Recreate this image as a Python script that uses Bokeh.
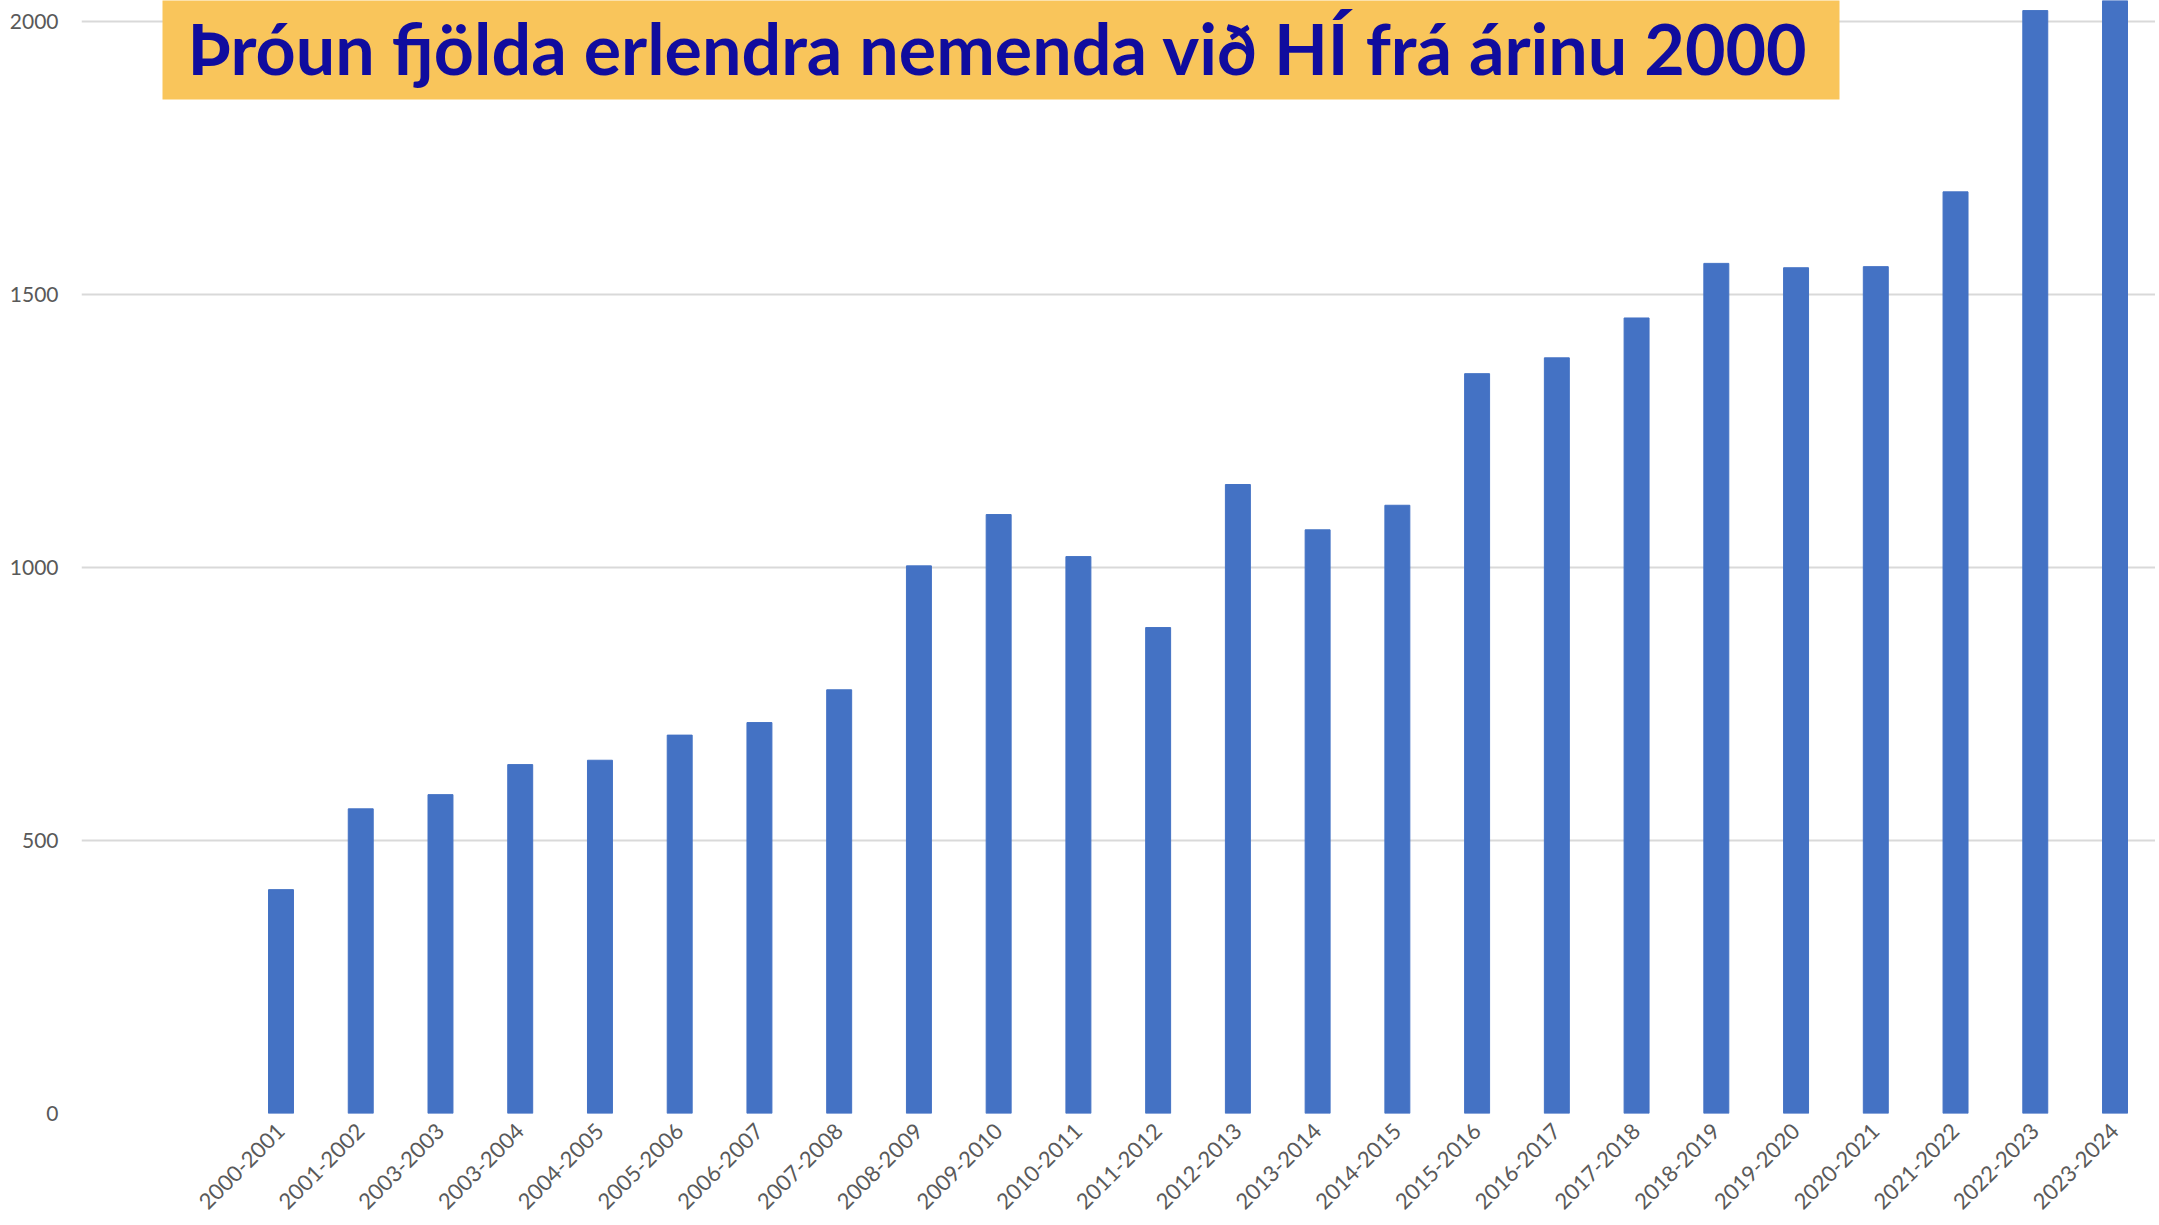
import math
from bokeh.plotting import figure
from bokeh.models import FixedTicker, BoxAnnotation, Label, ColumnDataSource, Range1d
from bokeh.embed import file_html
from bokeh.resources import INLINE

# ---- data ----
years = ["2000-2001", "2001-2002", "2003-2003", "2003-2004", "2004-2005",
         "2005-2006", "2006-2007", "2007-2008", "2008-2009", "2009-2010",
         "2010-2011", "2011-2012", "2012-2013", "2013-2014", "2014-2015",
         "2015-2016", "2016-2017", "2017-2018", "2018-2019", "2019-2020",
         "2020-2021", "2021-2022", "2022-2023", "2023-2024"]
students = [410, 558, 584, 639, 647, 693, 716, 776, 1003, 1097,
            1020, 890, 1152, 1069, 1114, 1355, 1384, 1457, 1557, 1549,
            1551, 1688, 2020, 2100]
y_ticks = [0, 500, 1000, 1500, 2000]
title_text = "Þróun fjölda erlendra nemenda við HÍ frá árinu 2000"

# ---- layout constants (page pixels) ----
PX_X = 79.74          # pixels per category
PX_Y = 0.546          # pixels per student
FIRST_X = 280.5       # page x of first bar centre
FRAME_L, FRAME_R = 81, 2155
FRAME_T, FRAME_B = 0, 1113
FIG_H = 1225

x_start = -(FIRST_X - FRAME_L) / PX_X
x_end = x_start + (FRAME_R - FRAME_L) / PX_X
y_end = (FRAME_B - FRAME_T) / PX_Y

def dx(px):
    return (px - FIRST_X) / PX_X

def dy(py):
    return (FRAME_B - py) / PX_Y

p = figure(width=FRAME_R, height=FIG_H, output_backend="svg", toolbar_location=None,
           x_range=Range1d(x_start, x_end), y_range=Range1d(0, y_end),
           min_border_left=FRAME_L, min_border_right=0, min_border_top=FRAME_T,
           min_border_bottom=FIG_H - FRAME_B)
p.outline_line_color = None
p.background_fill_color = "white"
p.border_fill_color = "white"

src = ColumnDataSource(dict(x=list(range(len(years))), top=students))
p.vbar(x="x", top="top", width=0.313, bottom=0, source=src,
       fill_color="#4472C4", line_color="#4472C4", line_width=1)

# grid
p.xgrid.grid_line_color = None
p.ygrid.ticker = FixedTicker(ticks=y_ticks)
p.ygrid.grid_line_color = "#D9D9D9"
p.ygrid.grid_line_width = 2

# y axis
p.yaxis.ticker = FixedTicker(ticks=y_ticks)
p.yaxis.axis_line_color = None
p.yaxis.major_tick_line_color = None
p.yaxis.minor_tick_line_color = None
p.yaxis.major_tick_out = 0
p.yaxis.major_label_standoff = 23
p.yaxis.major_label_text_font = "Lato"
p.yaxis.major_label_text_font_size = "21px"
p.yaxis.major_label_text_color = "#595959"

# x axis
p.xaxis.ticker = FixedTicker(ticks=list(range(len(years))))
p.xaxis.major_label_overrides = {i: y for i, y in enumerate(years)}
p.xaxis.major_label_orientation = math.pi / 4
p.xaxis.axis_line_color = None
p.xaxis.major_tick_line_color = None
p.xaxis.minor_tick_line_color = None
p.xaxis.major_tick_out = 0
p.xaxis.major_label_standoff = 14
p.xaxis.major_label_text_font = "Lato"
p.xaxis.major_label_text_font_size = "22px"
p.xaxis.major_label_text_color = "#595959"

# title box
box = BoxAnnotation(left=dx(162), right=dx(1839), bottom=dy(99), top=y_end + 100,
                    fill_color="#F9C55B", fill_alpha=1.0, line_color=None, level="overlay")
p.add_layout(box)
title = Label(x=dx(187), y=dy(47), text=title_text, text_font="Lato",
              text_font_size="70px", text_font_style="bold", text_color="#100C9E",
              text_baseline="alphabetic", text_align="left", level="overlay")
p.add_layout(title)

open("out.html", "w").write(file_html(p, INLINE))
